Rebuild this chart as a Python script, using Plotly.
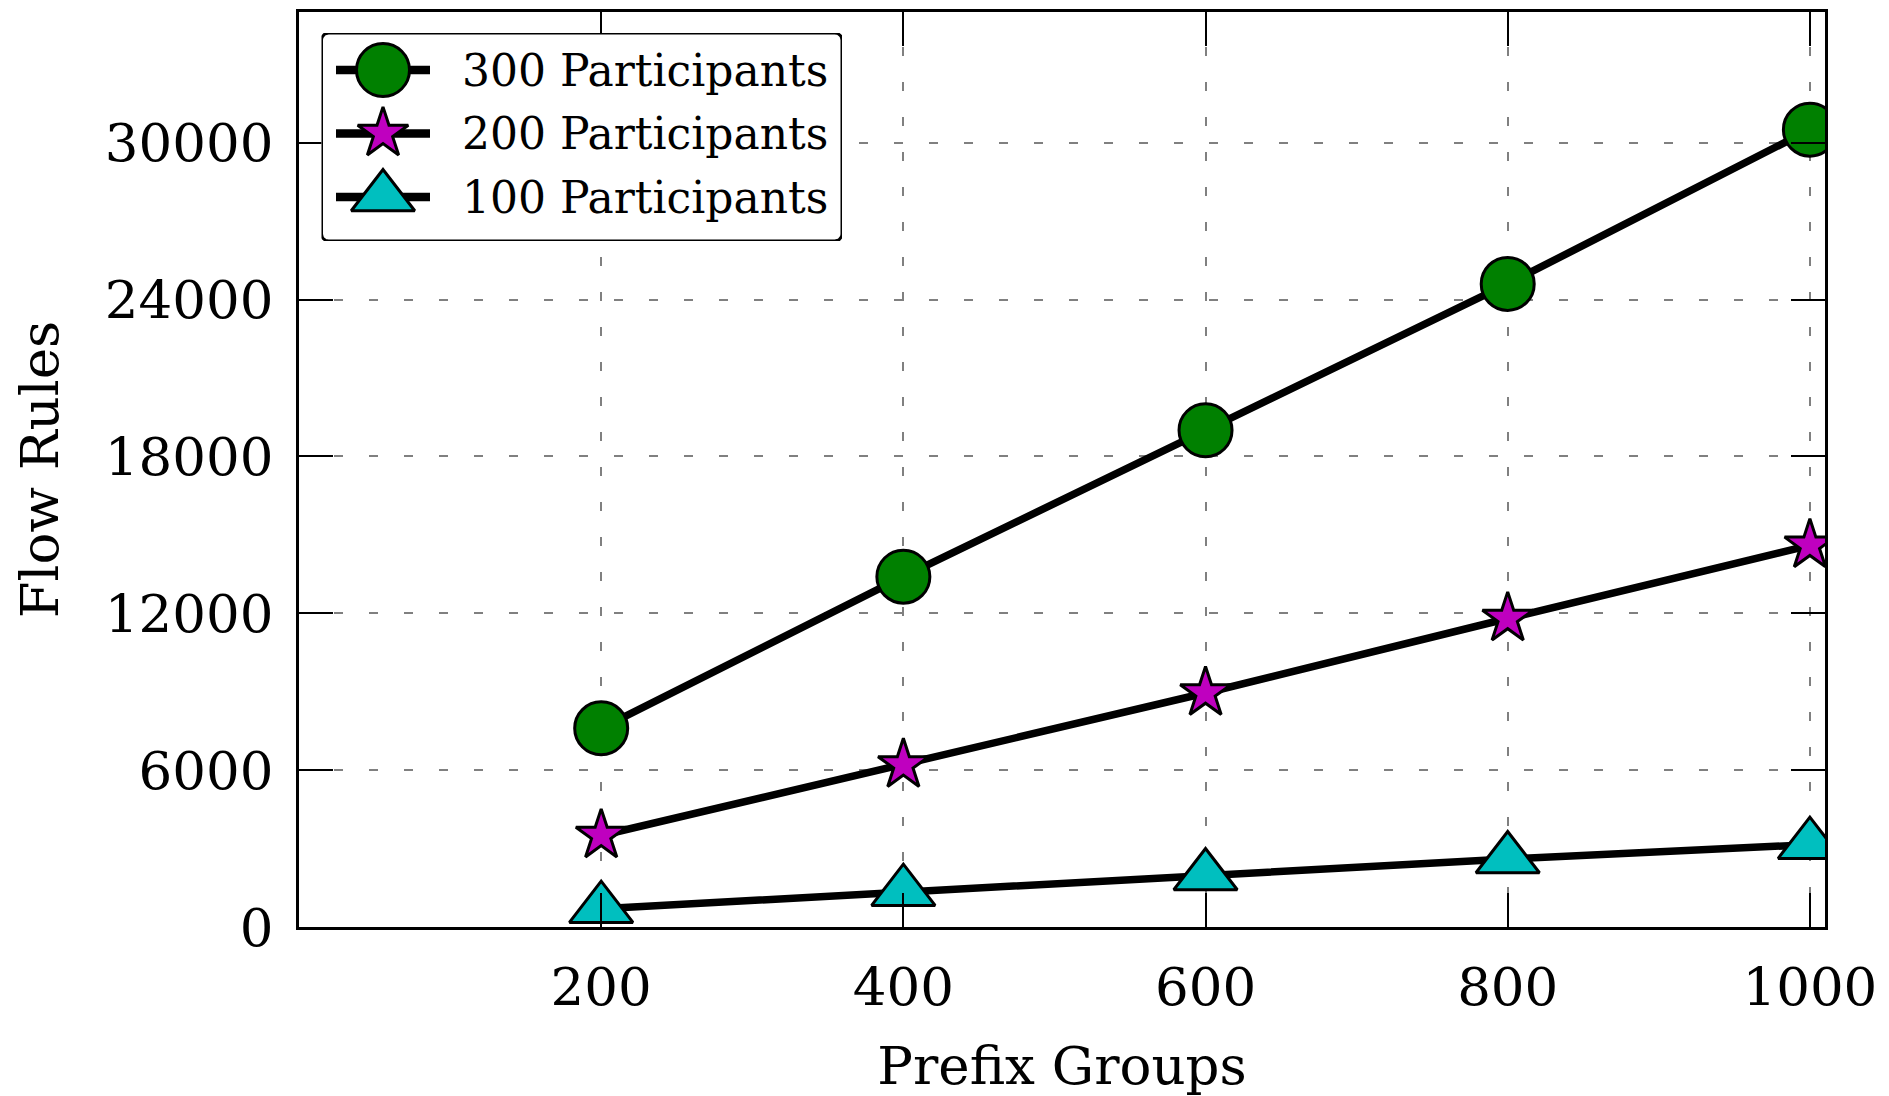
import numpy as np
import plotly.graph_objects as go

# ---------------- data ----------------
prefix_groups = [200, 400, 600, 800, 1000]
flow_300 = [7600, 13400, 19000, 24600, 30500]
flow_200 = [3500, 6200, 8950, 11800, 14600]
flow_100 = [700, 1350, 1950, 2600, 3150]

series_names = ["300 Participants", "200 Participants", "100 Participants"]
series_values = [flow_300, flow_200, flow_100]
series_colors = ["#008000", "#BF00BF", "#00BFBF"]
series_symbols = ["circle", "star", "triangle-up"]
series_sizes = [53, 38, 55]

x_ticks = [200, 400, 600, 800, 1000]
y_ticks = [0, 6000, 12000, 18000, 24000, 30000]

FONT = "DejaVu Serif"

# ---------------- geometry (page pixels; the page body adds an 8px offset) ----------------
OFF = 8
PAGE_W, PAGE_H = 1889, 1096
W, H = PAGE_W - OFF, PAGE_H - OFF
plot_left, plot_right, plot_top, plot_bottom = 299, 1825, 12, 927
ML = plot_left - OFF
MT = plot_top - OFF
MR = W - (plot_right - OFF)
MB = H - (plot_bottom - OFF)
PW = plot_right - plot_left
PH = plot_bottom - plot_top

fig = go.Figure()

for name, vals, col, sym, sz in zip(series_names, series_values, series_colors,
                                    series_symbols, series_sizes):
    fig.add_trace(go.Scatter(
        x=prefix_groups, y=vals, name=name, mode="lines+markers",
        line=dict(color="black", width=7.5),
        marker=dict(symbol=sym, size=sz, color=col,
                    line=dict(color="black", width=3)),
        showlegend=False, xaxis="x", yaxis="y",
    ))

# ---------------- custom legend (on an auxiliary axis pair, pixel units) ----------------
box_left, box_right, box_top, box_bottom = 321.5, 842, 33, 241
bw = box_right - box_left
bh = box_bottom - box_top
dom_x = [(box_left - plot_left) / PW, (box_right - plot_left) / PW]
dom_y = [(plot_bottom - box_bottom) / PH, (plot_bottom - box_top) / PH]

# rounded box outline
r = 7
pts = []
for cx, cy, a0 in [(bw - r, bh - r, 0), (r, bh - r, 90), (r, r, 180), (bw - r, r, 270)]:
    for a in np.linspace(a0, a0 + 90, 8):
        pts.append((cx + r * np.cos(np.radians(a)), cy + r * np.sin(np.radians(a))))
pts.append(pts[0])
fig.add_trace(go.Scatter(
    x=[p[0] for p in pts], y=[p[1] for p in pts], mode="lines",
    fill="toself", fillcolor="white", line=dict(color="black", width=3),
    hoverinfo="skip", showlegend=False, xaxis="x2", yaxis="y2",
))

row_first, row_step = 37, 63.5
line_x0, line_x1, mark_x, text_x = 14.5, 108.5, 61.5, 138
for i, (name, col, sym, sz) in enumerate(zip(series_names, series_colors,
                                              series_symbols, series_sizes)):
    ry = bh - row_first - row_step * i
    fig.add_trace(go.Scatter(
        x=[line_x0, line_x1], y=[ry, ry], mode="lines",
        line=dict(color="black", width=8.5), hoverinfo="skip",
        showlegend=False, xaxis="x2", yaxis="y2",
    ))
    fig.add_trace(go.Scatter(
        x=[mark_x], y=[ry], mode="markers",
        marker=dict(symbol=sym, size=sz, color=col, line=dict(color="black", width=3)),
        hoverinfo="skip", showlegend=False, xaxis="x2", yaxis="y2", cliponaxis=False,
    ))
    fig.add_annotation(
        x=text_x, y=ry, xref="x2", yref="y2", text=name, showarrow=False,
        xanchor="left", yanchor="middle",
        font=dict(family=FONT, size=44, color="black"),
    )

axis_common = dict(
    showline=True, linewidth=3, linecolor="black", mirror="ticks",
    ticks="inside", ticklen=34, tickwidth=2, tickcolor="black",
    showgrid=True, gridcolor="#808080", gridwidth=1.5, griddash="9px,26px",
    zeroline=False, automargin=True,
    tickfont=dict(family=FONT, size=53, color="black"),
)

fig.update_layout(
    width=W, height=H,
    margin=dict(l=ML, r=MR, t=MT, b=MB, autoexpand=False),
    paper_bgcolor="white", plot_bgcolor="white",
    showlegend=False,
    xaxis=dict(
        range=[0, 1010], tickvals=x_ticks, ticktext=[str(v) for v in x_ticks],
        ticklabelstandoff=11,
        title=dict(text="Prefix Groups", font=dict(family=FONT, size=53, color="black"),
                   standoff=63),
        **axis_common,
    ),
    yaxis=dict(
        range=[0, 35000], tickvals=y_ticks, ticktext=[str(v) for v in y_ticks],
        ticklabelstandoff=12,
        title=dict(text="Flow Rules", font=dict(family=FONT, size=53, color="black"),
                   standoff=30),
        **axis_common,
    ),
    xaxis2=dict(domain=dom_x, range=[0, bw], anchor="y2", visible=False,
                fixedrange=True, showgrid=False, zeroline=False),
    yaxis2=dict(domain=dom_y, range=[0, bh], anchor="x2", visible=False,
                fixedrange=True, showgrid=False, zeroline=False),
)

fig.write_html("out.html")
